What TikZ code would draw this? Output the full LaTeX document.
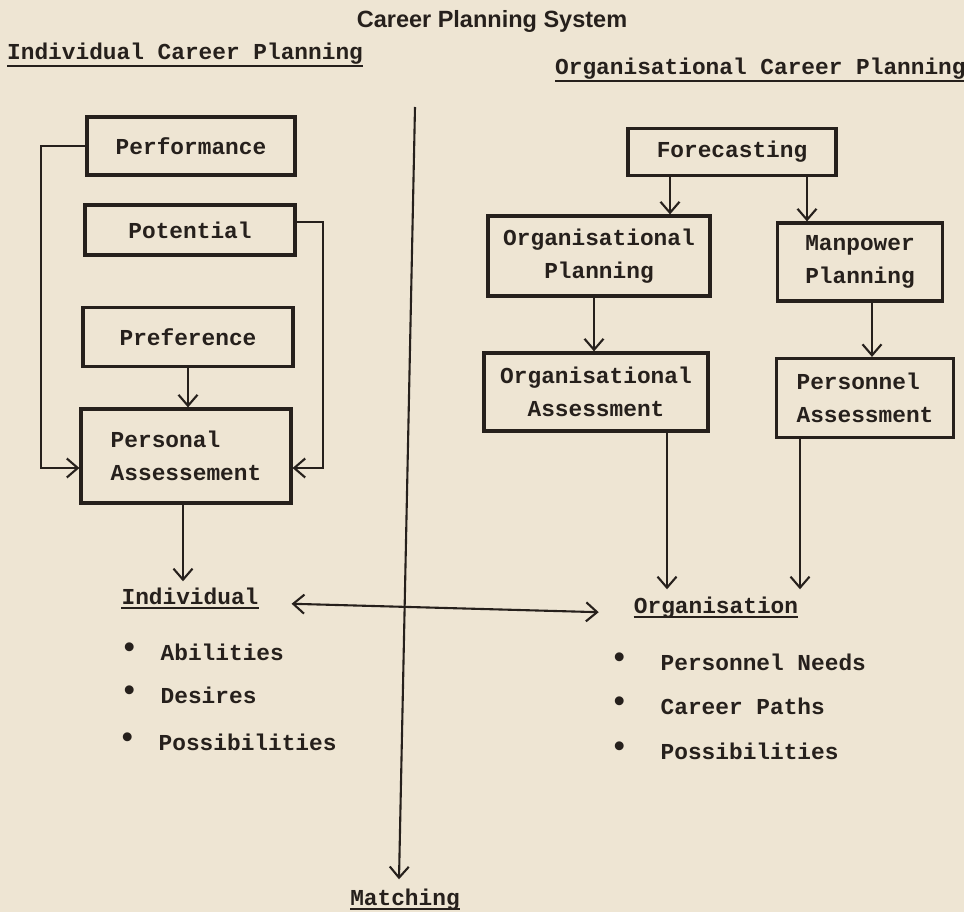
\documentclass[tikz,border=0pt]{standalone}
\usepackage{fontspec}
\usepackage{graphicx}
\setmonofont{Liberation Mono}
\setsansfont{Liberation Sans}
\usetikzlibrary{arrows.meta}
\definecolor{paper}{RGB}{238,229,211}
\definecolor{ink}{RGB}{38,32,28}
\newcommand{\bigbul}{\raisebox{2.5pt}{\scalebox{1.35}{\textbullet}}}
\begin{document}
\begin{tikzpicture}[x=1pt,y=-1pt,
  tt/.style={font=\ttfamily\bfseries\fontsize{22.8}{33}\selectfont, text=ink},
  box/.style={tt, draw=ink, line width=3.2pt, inner sep=0pt, align=center},
  conn/.style={draw=ink, line width=2.1pt},
  barb/.tip={Straight Barb[length=11pt,width=19pt]},
  arr/.style={conn, -barb},
  lbl/.style={tt, inner sep=0pt},
  ul/.style={draw=ink, line width=2.4pt}]
\fill[paper] (0,0) rectangle (964,912);
\useasboundingbox (0,0) rectangle (964,912);

% titles
\node[font=\sffamily\bfseries\fontsize{23.5}{27}\selectfont, text=ink, inner sep=0pt, anchor=base] (title) at (492,28) {Career Planning System};
\node[lbl, anchor=base west] (h1) at (7,60) {Individual Career Planning};
\node[lbl, anchor=base west] (h2) at (555,75) {Organisational Career Planning};
\draw[ul] ([yshift=-6pt]h1.base west) -- ([yshift=-6pt]h1.base east);
\draw[ul] ([yshift=-6pt]h2.base west) -- ([yshift=-6pt]h2.base east);

% left boxes
\node[box, minimum width=208pt, minimum height=58pt] (perf) at (191,146) {Performance};
\node[box, minimum width=210pt, minimum height=50pt] (pot) at (190,230) {Potential};
\node[box, minimum width=210pt, minimum height=59pt] (pref) at (188,337) {Preference};
\node[box, minimum width=210pt, minimum height=94pt, align=left] (pa) at (186,456) {Personal\\Assessement};

% right boxes
\node[box, minimum width=208pt, minimum height=47pt] (fore) at (732,152) {Forecasting};
\node[box, minimum width=222pt, minimum height=80pt] (op) at (599,256) {Organisational\\Planning};
\node[box, minimum width=165pt, minimum height=78pt] (mp) at (860,262) {Manpower\\Planning};
\node[box, minimum width=224pt, minimum height=78pt] (oa) at (596,392) {Organisational\\Assessment};
\node[box, minimum width=177pt, minimum height=79pt, align=left] (pers) at (865,398) {Personnel\\Assessment};

% lower labels
\node[lbl, anchor=base] (ind) at (190,604) {Individual};
\node[lbl, anchor=base] (org) at (716,613) {Organisation};
\node[lbl, anchor=base] (match) at (405,905) {Matching};
\draw[ul] ([yshift=-4pt]ind.base west) -- ([yshift=-4pt]ind.base east);
\draw[ul] ([yshift=-4pt]org.base west) -- ([yshift=-4pt]org.base east);
\draw[ul] ([yshift=-4pt]match.base west) -- ([yshift=-4pt]match.base east);

% bullet lists
\node[lbl, anchor=base west] (i1) at (120,660) {\bigbul\hspace{22pt}Abilities};
\node[lbl, anchor=base west] (i2) at (120,703) {\bigbul\hspace{22pt}Desires};
\node[lbl, anchor=base west] (i3) at (118,750) {\bigbul\hspace{22pt}Possibilities};
\node[lbl, anchor=base west] (o1) at (610,670) {\bigbul\hspace{32pt}Personnel Needs};
\node[lbl, anchor=base west] (o2) at (610,714) {\bigbul\hspace{32pt}Career Paths};
\node[lbl, anchor=base west] (o3) at (610,759) {\bigbul\hspace{32pt}Possibilities};

% left connectors
\draw[arr] (perf.west) -- ++(-44,0) |- ([yshift=-12pt]pa.west);
\draw[arr] ([yshift=8pt]pot.east) -- ++(26,0) |- ([yshift=-12pt]pa.east);
\coordinate (prs) at (pref.south);
\draw[arr] (prs) -- (prs |- pa.north);
\coordinate (pas) at ([xshift=-3pt]pa.south);
\draw[arr, shorten >=6pt] (pas) -- (pas |- ind.north);

% right connectors
\coordinate (f1) at ([xshift=-62pt]fore.south);
\coordinate (f2) at ([xshift=75pt]fore.south);
\draw[arr] (f1) -- (f1 |- op.north);
\draw[arr] (f2) -- (f2 |- mp.north);
\coordinate (ops) at ([xshift=-5pt]op.south);
\draw[arr] (ops) -- (ops |- oa.north);
\coordinate (mps) at ([xshift=12pt]mp.south);
\draw[arr] (mps) -- (mps |- pers.north);
\coordinate (oas) at ([xshift=71pt]oa.south);
\draw[arr, shorten >=7pt] (oas) -- (oas |- org.north);
\coordinate (pes) at ([xshift=-65pt]pers.south);
\draw[arr, shorten >=7pt] (pes) -- (pes |- org.north);

% central axis and matching
\coordinate (vtop) at (415,107);
\draw[arr] (vtop) -- ([xshift=-6pt,yshift=9pt]match.north);
\draw[conn, barb-barb, shorten <=33pt, shorten >=35pt] ([yshift=-7pt]ind.east) -- ([yshift=-6pt]org.west);
\end{tikzpicture}
\end{document}
